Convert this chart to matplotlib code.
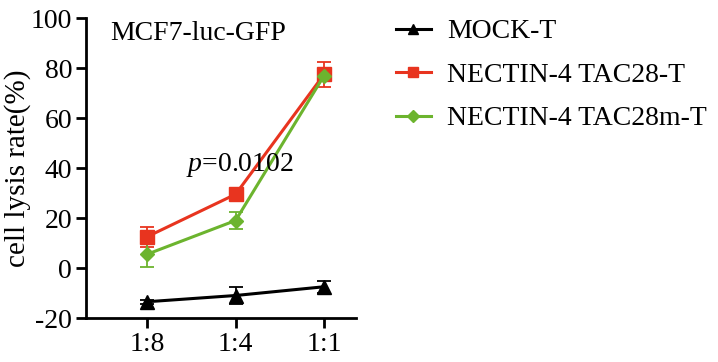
import matplotlib
matplotlib.use("Agg")
import matplotlib.pyplot as plt
from matplotlib.lines import Line2D

ratios = ["1:8", "1:4", "1:1"]
mock_mean = [-13.5, -11.0, -7.5]
mock_err = [0.8, 3.5, 2.5]
tac28_mean = [12.5, 29.5, 77.5]
tac28_err = [4.0, 1.0, 5.0]
tac28m_mean = [5.5, 19.0, 77.0]
tac28m_err = [5.0, 3.5, 2.0]

plt.rcParams["font.family"] = ["Liberation Serif", "DejaVu Serif"]
plt.rcParams["axes.unicode_minus"] = False
plt.rcParams["mathtext.fontset"] = "custom"
plt.rcParams["mathtext.it"] = "Liberation Serif:italic"
plt.rcParams["mathtext.rm"] = "Liberation Serif"

fig = plt.figure(figsize=(7.18, 3.62), dpi=100)
ax = fig.add_axes([86 / 718, 1 - 318 / 362, 270 / 718, 300 / 362])

x = list(range(len(ratios)))
series = [
    ("MOCK-T", mock_mean, mock_err, "black", "^", 10),
    ("NECTIN-4 TAC28-T", tac28_mean, tac28_err, "#e8341f", "s", 9.5),
    ("NECTIN-4 TAC28m-T", tac28m_mean, tac28m_err, "#6cb42e", "D", 7.5),
]
handles = []
for label, mean, err, color, marker, ms in series:
    ax.errorbar(x, mean, yerr=err, color=color, marker=marker, ms=ms,
                lw=2.2, elinewidth=1.3, capsize=5, capthick=1.3)
    handles.append(Line2D([], [], color=color, marker=marker, ms=ms * 0.75,
                          lw=2.2, label=label))

ax.set_xlim(-0.69, 2.36)
ax.set_ylim(-20, 100)
ax.set_xticks(x)
ax.set_xticklabels(ratios)
ax.set_yticks(range(-20, 101, 20))
ax.tick_params(labelsize=20, width=2, length=7, direction="out", pad=3)
for side in ("top", "right"):
    ax.spines[side].set_visible(False)
for side in ("left", "bottom"):
    ax.spines[side].set_linewidth(2)
ax.set_ylabel("cell lysis rate(%)", fontsize=21, labelpad=0)

ax.text(0.09, 0.99, "MCF7-luc-GFP", transform=ax.transAxes, fontsize=20, va="top")
ax.text(0.37, 0.51, r"$p$=0.0102", transform=ax.transAxes, fontsize=20,
        va="center")

fig.legend(handles=handles, loc="upper left",
           bbox_to_anchor=(396 / 718, 1 - 19 / 362), frameon=False,
           fontsize=20, handlelength=1.25, labelspacing=0.65,
           handletextpad=0.6, borderpad=0, borderaxespad=0)

fig.savefig("out.png", dpi=100)
